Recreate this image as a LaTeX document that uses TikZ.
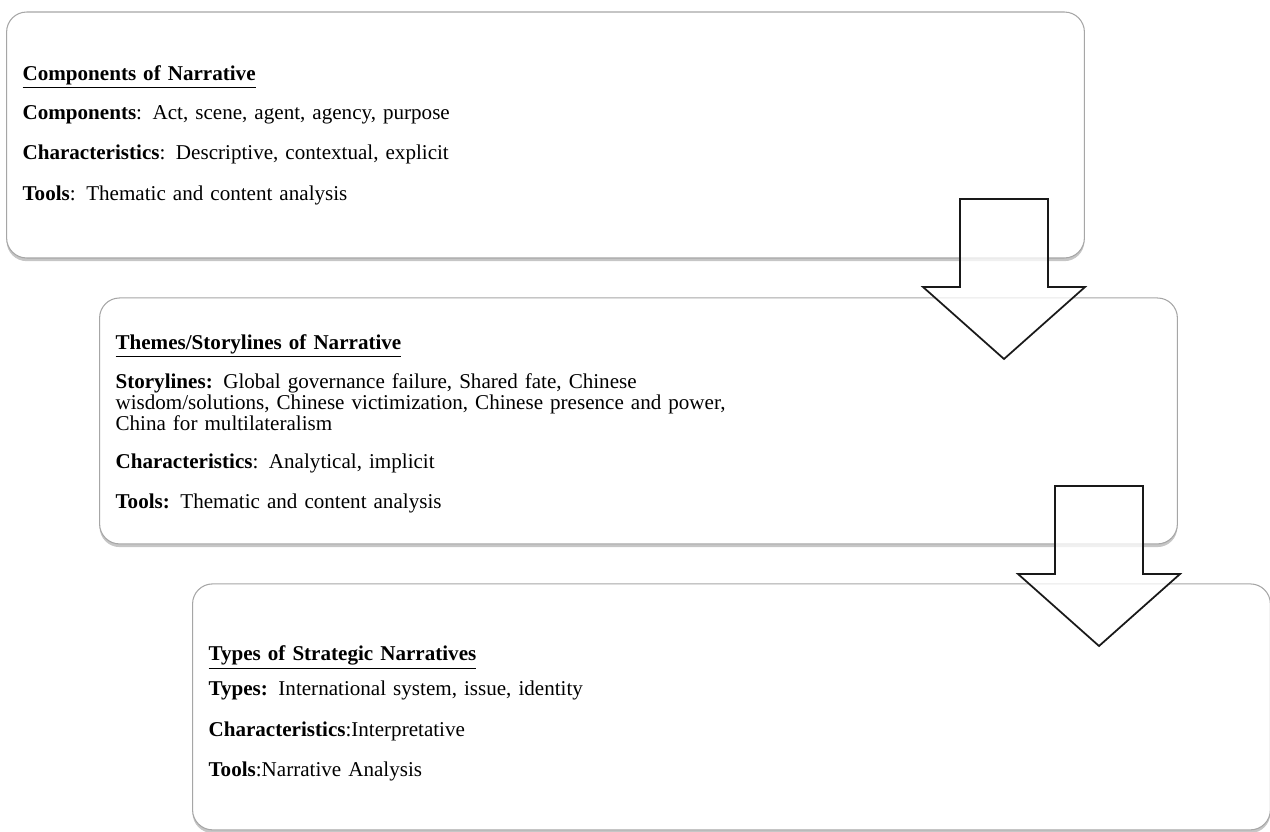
\documentclass[tikz,border=0pt]{standalone}
\usepackage{fontspec}
\setmainfont{Liberation Serif}
\usetikzlibrary{positioning, shadows}

\begin{document}
\begin{tikzpicture}
    [
        x=0.02cm, y=-0.02cm, node distance=5.72cm and 1.86cm, on grid,
        stage_box/.style={rectangle, rounded corners=0.4cm, draw=black!35, line width=0.6pt, fill=white, drop shadow={shadow xshift=0pt, shadow yshift=-1.8pt, fill=black!50, opacity=0.45}, minimum width=21.56cm, minimum height=4.92cm, text width=20.92cm, inner xsep=0.32cm, align=left, font=\fontsize{12}{10.5}\selectfont},
        block_arrow/.style={draw=black!90, line width=1pt, fill=white, fill opacity=0.75, line join=miter},
    ]
        \useasboundingbox (0,0) rectangle (1270,831) ;
        \node[stage_box] (components) at (545.5,135) {\textbf{\underline{Components of Narrative}}\\[9pt]
            \textbf{Components}:  Act, scene, agent, agency, purpose\\[11pt]
            \textbf{Characteristics}: Descriptive, contextual, explicit\\[11pt]
            \textbf{Tools}: Thematic and content analysis} ;
        \node[stage_box] (themes) [below right = of components] {\rule{0pt}{12pt}\textbf{\underline{Themes/Storylines of Narrative}}\\[8pt]
            \textbf{Storylines:} Global governance failure,  Shared fate, Chinese\\
            wisdom/solutions, Chinese victimization,  Chinese presence and power,\\
            China for multilateralism\\[11pt]
            \textbf{Characteristics}: Analytical, implicit\\[11pt]
            \textbf{Tools:} Thematic and content analysis} ;
        \node[stage_box] (types) [below right = of themes] {\rule{0pt}{16pt}\textbf{\underline{Types of Strategic Narratives}}\\[6pt]
            \textbf{Types:}  International system, issue, identity\\[11pt]
            \textbf{Characteristics}:Interpretative\\[11pt]
            \textbf{Tools}:Narrative  Analysis} ;
        % hollow arrows between the stages
        \draw[block_arrow] (960,199) -- ++(88,0) -- ++(0,88) -- ++(37,0) -- ++(-81,72) -- ++(-81,-72) -- ++(37,0) -- cycle ;
        \draw[block_arrow] (1055,486) -- ++(88,0) -- ++(0,88) -- ++(37,0) -- ++(-81,72) -- ++(-81,-72) -- ++(37,0) -- cycle ;
\end{tikzpicture}
\end{document}
